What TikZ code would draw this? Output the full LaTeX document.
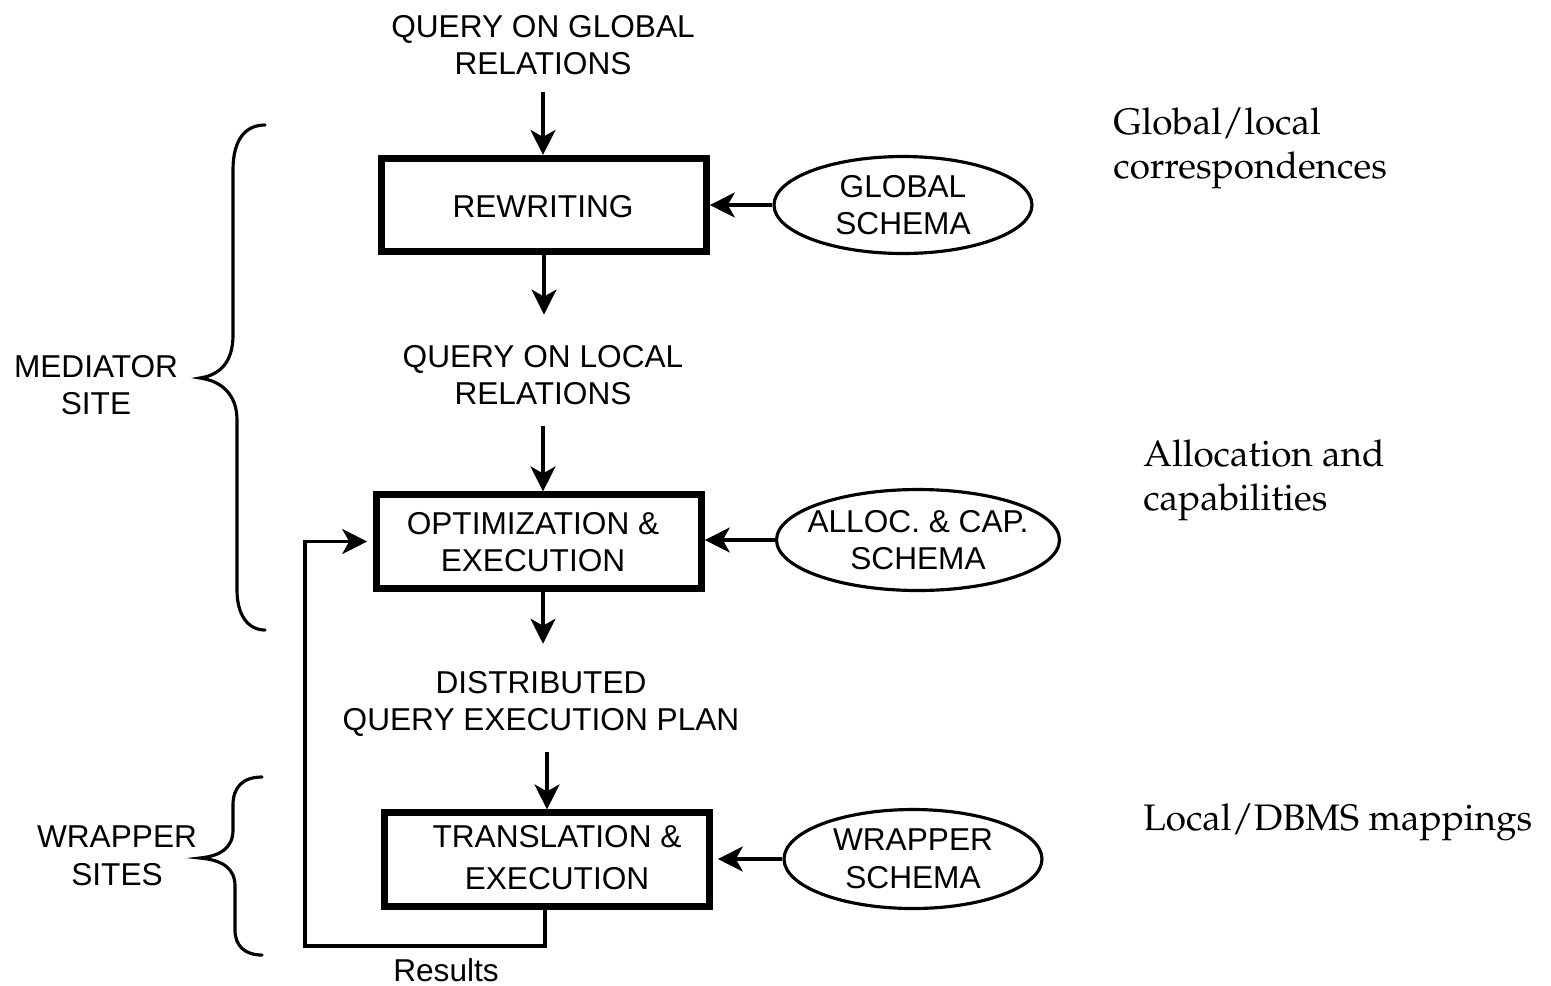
\documentclass[tikz,border=0pt]{standalone}
\usepackage[T1]{fontenc}
\usepackage{fontspec}
\setmainfont{Liberation Sans}
\usetikzlibrary{arrows.meta,shapes.geometric}
\newcommand{\palfont}{\fontencoding{T1}\fontfamily{ppl}\fontsize{21pt}{24.9pt}\selectfont}
\begin{document}
\begin{tikzpicture}[x=0.02cm,y=-0.02cm,
  lbl/.style={inner sep=0, align=center, font=\fontsize{18pt}{21.5pt}\selectfont},
  box/.style={draw, line width=3.8pt, minimum width=6.5cm, minimum height=1.87cm, inner sep=0},
  oval/.style={draw, ellipse, line width=1.8pt, inner sep=0, align=center, font=\fontsize{18pt}{21.5pt}\selectfont},
  arr/.style={line width=1.8pt, -{Stealth[length=0.5cm,width=0.5cm,inset=0.14cm]}},
  brace/.style={line width=1.8pt, line cap=round},
  note/.style={anchor=west, inner sep=0, align=left, font=\palfont}]
\useasboundingbox (0,0) rectangle (1551,985);

% text labels
\node[lbl] (q1) at (543,45) {QUERY ON GLOBAL\\RELATIONS};
\node[lbl] (q2) at (543,375) {QUERY ON LOCAL\\RELATIONS};
\node[lbl] (q3) at (541,704) {DISTRIBUTED\\QUERY EXECUTION PLAN};
\node[lbl] (res) at (446,970) {Results};
\node[lbl] (med) at (96,385) {MEDIATOR\\SITE};
\node[lbl] (wrp) at (117,856) {WRAPPER\\SITES};

% boxes
\node[box] (rw) at (544,205) {};
\node[lbl] (rwt) at (543,207) {REWRITING};
\node[box] (opt) at (539,541.5) {};
\node[lbl] (optt) at (533,542) {OPTIMIZATION \&\\EXECUTION};
\node[box] (tr) at (547,859.5) {};
\node[lbl, font=\fontsize{18pt}{23.8pt}\selectfont] (trt) at (557,858) {TRANSLATION \&\\EXECUTION};

% ellipses
\node[oval, minimum width=5.16cm, minimum height=1.94cm] (gs) at (903,205) {GLOBAL\\SCHEMA};
\node[oval, inner xsep=-0.32cm, minimum width=5.66cm, minimum height=2.02cm] (ac) at (918,540) {ALLOC. \& CAP.\\SCHEMA};
\node[oval, minimum width=5.16cm, minimum height=1.98cm] (ws) at (913,859) {WRAPPER\\SCHEMA};

% notes
\node[note] (n1) at (1113,148) {Global/local\\correspondences};
\node[note] (n2) at (1143,480) {Allocation and\\capabilities};
\node[note] (n3) at (1143,822) {Local/DBMS mappings};

% vertical arrows
\draw[arr, shorten <=0.34cm] (q1.south) -- (q1.south |- rw.north);
\draw[arr, shorten >=0.6cm] (rw.south) -- (rw.south |- q2.north);
\draw[arr, shorten <=0.42cm] (q2.south) -- (q2.south |- opt.north);
\draw[arr, shorten >=0.54cm] (q2.south |- opt.south) -- (q2.south |- q3.north);
\draw[arr, shorten <=0.3cm] (tr.north |- q3.south) -- (tr.north);

% horizontal arrows
\draw[arr] (gs.west) -- (gs.west -| rw.east);
\draw[arr] (ac.west) -- (ac.west -| opt.east);
\draw[arr, shorten >=0.1cm] (ws.west) -- (ws.west -| tr.east);

% results loop
\coordinate (lc) at (305,946);
\draw[arr, shorten >=0.12cm] ([xshift=-0.04cm]tr.south) |- (lc) |- (opt.west);

% braces
\draw[brace] (265,125) .. controls (245,125) and (233,140) .. (233,170) -- (233,335)
  .. controls (233,362) and (220,375) .. (200,378)
  .. controls (222,381) and (237,395) .. (237,420) -- (237,590)
  .. controls (237,615) and (248,630) .. (265,630);
\draw[brace] (262,777) .. controls (243,777) and (233,787) .. (233,805) -- (233,830)
  .. controls (233,848) and (220,856) .. (200,858)
  .. controls (222,860) and (235,868) .. (235,886) -- (235,930)
  .. controls (235,946) and (245,955) .. (262,955);
\end{tikzpicture}
\end{document}
